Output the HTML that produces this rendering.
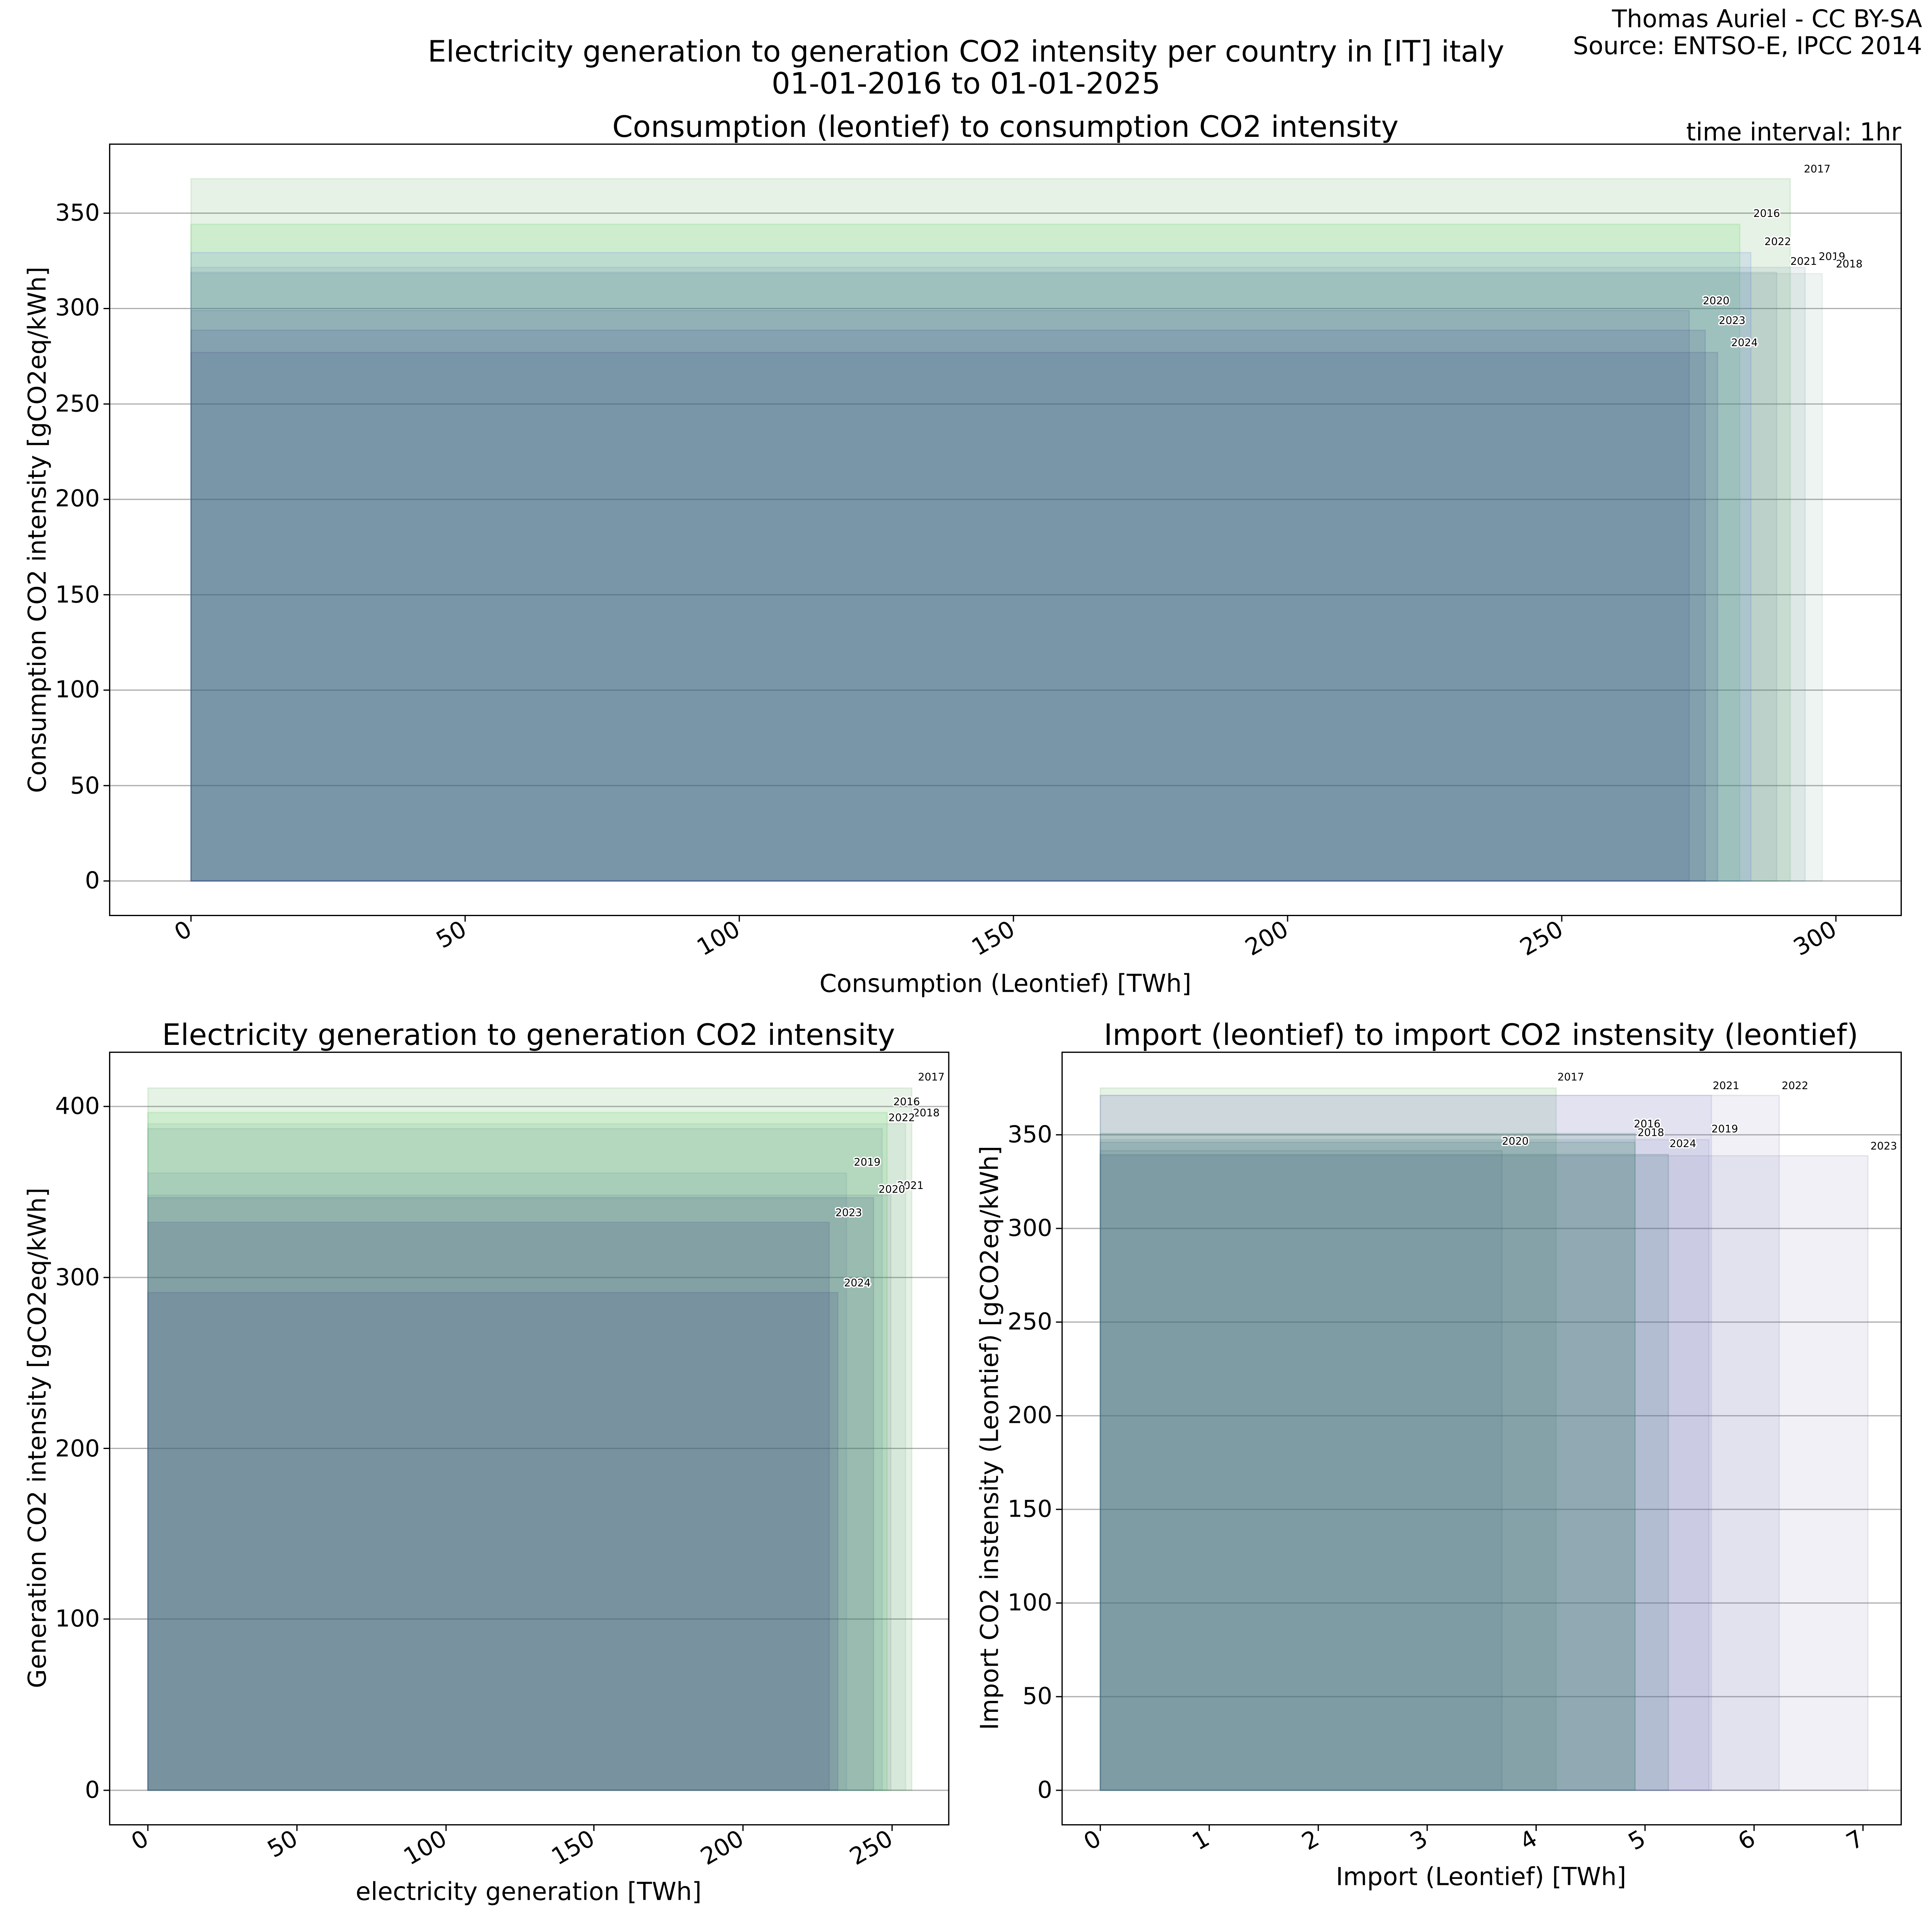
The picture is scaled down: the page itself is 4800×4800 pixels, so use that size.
<!DOCTYPE html>
<html><head><meta charset="utf-8"><style>
html,body{margin:0;padding:0;background:#fff}
svg{display:block}
text{font-family:"DejaVu Sans","Liberation Sans",sans-serif;fill:#000}
.t{font-size:19px}
.yl{font-size:8.5px;stroke:#fff;stroke-width:2.2px;paint-order:stroke;stroke-linejoin:round}
.g{stroke:#b0b0b0;stroke-width:1}
</style></head><body>
<svg width="4800" height="4800" viewBox="0 0 1568 1568" xmlns="http://www.w3.org/2000/svg">
<rect width="1568" height="1568" fill="#fff"/>
<text x="1560" y="22" text-anchor="end" style="font-size:19.8px">Thomas Auriel - CC BY-SA</text>
<text x="1560" y="44" text-anchor="end" style="font-size:19.8px">Source: ENTSO-E, IPCC 2014</text>
<text x="784" y="50" text-anchor="middle" style="font-size:23.8px">Electricity generation to generation CO2 intensity per country in [IT] italy</text>
<text x="784" y="76" text-anchor="middle" style="font-size:23.8px">01-01-2016 to 01-01-2025</text>

<!-- TOP PANEL -->
<text x="816" y="111" text-anchor="middle" style="font-size:23.9px">Consumption (leontief) to consumption CO2 intensity</text>
<text x="1543" y="114" text-anchor="end" style="font-size:20px">time interval: 1hr</text>
<g class="g">
<line x1="89" x2="1543" y1="715" y2="715"/><line x1="89" x2="1543" y1="637.6" y2="637.6"/><line x1="89" x2="1543" y1="560.1" y2="560.1"/><line x1="89" x2="1543" y1="482.7" y2="482.7"/><line x1="89" x2="1543" y1="405.3" y2="405.3"/><line x1="89" x2="1543" y1="327.9" y2="327.9"/><line x1="89" x2="1543" y1="250.4" y2="250.4"/><line x1="89" x2="1543" y1="173" y2="173"/>
</g>
<g stroke-width="1">
<rect x="155" y="182" width="1257" height="533" fill="#32cd32" fill-opacity="0.12" stroke="#32cd32" stroke-opacity="0.15"/>
<rect x="155" y="145" width="1298" height="570" fill="#008000" fill-opacity="0.1" stroke="#008000" stroke-opacity="0.1"/>
<rect x="155" y="222" width="1324" height="493" fill="#5a9678" fill-opacity="0.1" stroke="#5a9678" stroke-opacity="0.1"/>
<rect x="155" y="217" width="1310" height="498" fill="#648ca0" fill-opacity="0.12" stroke="#648ca0" stroke-opacity="0.15"/>
<rect x="155" y="252" width="1216" height="463" fill="#3c4682" fill-opacity="0.14" stroke="#3c4682" stroke-opacity="0.15"/>
<rect x="155" y="221" width="1287" height="494" fill="#648296" fill-opacity="0.12" stroke="#648296" stroke-opacity="0.15"/>
<rect x="155" y="205" width="1266" height="510" fill="#4169e1" fill-opacity="0.12" stroke="#4169e1" stroke-opacity="0.15"/>
<rect x="155" y="268" width="1229" height="447" fill="#3c4682" fill-opacity="0.14" stroke="#3c4682" stroke-opacity="0.15"/>
<rect x="155" y="286" width="1239" height="429" fill="#3c4682" fill-opacity="0.14" stroke="#3c4682" stroke-opacity="0.15"/>
</g>
<g class="yl">
<text x="1464" y="140">2017</text><text x="1423" y="176">2016</text><text x="1432" y="199">2022</text>
<text x="1453" y="215">2021</text><text x="1476" y="211">2019</text><text x="1490" y="217">2018</text>
<text x="1382" y="247">2020</text><text x="1395" y="263">2023</text><text x="1405" y="281">2024</text>
</g>
<rect x="89" y="117" width="1454" height="626" fill="none" stroke="#000" stroke-width="1"/>
<g stroke="#000" stroke-width="1">
<line x1="84" x2="89" y1="715" y2="715"/><line x1="84" x2="89" y1="637.6" y2="637.6"/><line x1="84" x2="89" y1="560.1" y2="560.1"/><line x1="84" x2="89" y1="482.7" y2="482.7"/><line x1="84" x2="89" y1="405.3" y2="405.3"/><line x1="84" x2="89" y1="327.9" y2="327.9"/><line x1="84" x2="89" y1="250.4" y2="250.4"/><line x1="84" x2="89" y1="173" y2="173"/>
<line x1="155" x2="155" y1="743" y2="748"/><line x1="377.5" x2="377.5" y1="743" y2="748"/><line x1="600" x2="600" y1="743" y2="748"/><line x1="822.5" x2="822.5" y1="743" y2="748"/><line x1="1045" x2="1045" y1="743" y2="748"/><line x1="1267.5" x2="1267.5" y1="743" y2="748"/><line x1="1490" x2="1490" y1="743" y2="748"/>
</g>
<g class="t" text-anchor="end">
<text x="81" y="721">0</text><text x="81" y="644">50</text><text x="81" y="566">100</text><text x="81" y="489">150</text><text x="81" y="411">200</text><text x="81" y="334">250</text><text x="81" y="256">300</text><text x="81" y="179">350</text>
</g>
<g class="t" text-anchor="end">
<text transform="translate(157,758) rotate(-30)">0</text>
<text transform="translate(380,758) rotate(-30)">50</text>
<text transform="translate(602,758) rotate(-30)">100</text>
<text transform="translate(825,758) rotate(-30)">150</text>
<text transform="translate(1047,758) rotate(-30)">200</text>
<text transform="translate(1270,758) rotate(-30)">250</text>
<text transform="translate(1492,758) rotate(-30)">300</text>
</g>
<text x="816" y="805" text-anchor="middle" style="font-size:20px">Consumption (Leontief) [TWh]</text>
<text transform="translate(37,430) rotate(-90)" text-anchor="middle" style="font-size:20px">Consumption CO2 intensity [gCO2eq/kWh]</text>

<!-- BOTTOM LEFT -->
<text x="429" y="848" text-anchor="middle" style="font-size:23.9px">Electricity generation to generation CO2 intensity</text>
<g class="g">
<line x1="89" x2="770" y1="1453" y2="1453"/><line x1="89" x2="770" y1="1314" y2="1314"/><line x1="89" x2="770" y1="1175.5" y2="1175.5"/><line x1="89" x2="770" y1="1036.8" y2="1036.8"/><line x1="89" x2="770" y1="898" y2="898"/>
</g>
<g stroke-width="1">
<rect x="120" y="903" width="600" height="550" fill="#32cd32" fill-opacity="0.12" stroke="#32cd32" stroke-opacity="0.15"/>
<rect x="120" y="883" width="620" height="570" fill="#008000" fill-opacity="0.1" stroke="#008000" stroke-opacity="0.1"/>
<rect x="120" y="912" width="615" height="541" fill="#5a9678" fill-opacity="0.1" stroke="#5a9678" stroke-opacity="0.1"/>
<rect x="120" y="952" width="567" height="501" fill="#648ca0" fill-opacity="0.12" stroke="#648ca0" stroke-opacity="0.15"/>
<rect x="120" y="972" width="589" height="481" fill="#3c4682" fill-opacity="0.15" stroke="#3c4682" stroke-opacity="0.15"/>
<rect x="120" y="970" width="603" height="483" fill="#648296" fill-opacity="0.12" stroke="#648296" stroke-opacity="0.15"/>
<rect x="120" y="916" width="596" height="537" fill="#4a8a8a" fill-opacity="0.12" stroke="#4a8a8a" stroke-opacity="0.15"/>
<rect x="120" y="992" width="553" height="461" fill="#3c4682" fill-opacity="0.16" stroke="#3c4682" stroke-opacity="0.15"/>
<rect x="120" y="1049" width="560" height="404" fill="#3c4682" fill-opacity="0.16" stroke="#3c4682" stroke-opacity="0.15"/>
</g>
<g class="yl">
<text x="745" y="877">2017</text><text x="725" y="897">2016</text><text x="741" y="906">2018</text><text x="721" y="910">2022</text>
<text x="693" y="946">2019</text><text x="728" y="965">2021</text><text x="713" y="968">2020</text><text x="678" y="987">2023</text><text x="685" y="1044">2024</text>
</g>
<rect x="89" y="854" width="681" height="627" fill="none" stroke="#000" stroke-width="1"/>
<g stroke="#000" stroke-width="1">
<line x1="84" x2="89" y1="1453" y2="1453"/><line x1="84" x2="89" y1="1314" y2="1314"/><line x1="84" x2="89" y1="1175.5" y2="1175.5"/><line x1="84" x2="89" y1="1036.8" y2="1036.8"/><line x1="84" x2="89" y1="898" y2="898"/>
<line x1="120" x2="120" y1="1481" y2="1486"/><line x1="241" x2="241" y1="1481" y2="1486"/><line x1="362" x2="362" y1="1481" y2="1486"/><line x1="482" x2="482" y1="1481" y2="1486"/><line x1="603" x2="603" y1="1481" y2="1486"/><line x1="724" x2="724" y1="1481" y2="1486"/>
</g>
<g class="t" text-anchor="end">
<text x="81" y="1459">0</text><text x="81" y="1320">100</text><text x="81" y="1182">200</text><text x="81" y="1043">300</text><text x="81" y="904">400</text>
</g>
<g class="t" text-anchor="end">
<text transform="translate(122,1496) rotate(-30)">0</text>
<text transform="translate(243,1496) rotate(-30)">50</text>
<text transform="translate(364,1496) rotate(-30)">100</text>
<text transform="translate(484,1496) rotate(-30)">150</text>
<text transform="translate(605,1496) rotate(-30)">200</text>
<text transform="translate(726,1496) rotate(-30)">250</text>
</g>
<text x="429" y="1542" text-anchor="middle" style="font-size:20px">electricity generation [TWh]</text>
<text transform="translate(37,1167) rotate(-90)" text-anchor="middle" style="font-size:20px">Generation CO2 intensity [gCO2eq/kWh]</text>

<!-- BOTTOM RIGHT -->
<text x="1202" y="848" text-anchor="middle" style="font-size:23.9px">Import (leontief) to import CO2 instensity (leontief)</text>
<g class="g">
<line x1="862" x2="1543" y1="1453" y2="1453"/><line x1="862" x2="1543" y1="1377" y2="1377"/><line x1="862" x2="1543" y1="1301" y2="1301"/><line x1="862" x2="1543" y1="1225" y2="1225"/><line x1="862" x2="1543" y1="1149" y2="1149"/><line x1="862" x2="1543" y1="1073" y2="1073"/><line x1="862" x2="1543" y1="997" y2="997"/><line x1="862" x2="1543" y1="921" y2="921"/>
</g>
<g stroke-width="1">
<rect x="893" y="920" width="434" height="533" fill="#2e8b57" fill-opacity="0.17" stroke="#2e8b57" stroke-opacity="0.2"/>
<rect x="893" y="883" width="370" height="570" fill="#008000" fill-opacity="0.1" stroke="#008000" stroke-opacity="0.1"/>
<rect x="893" y="927" width="434" height="526" fill="#2e8b57" fill-opacity="0.17" stroke="#2e8b57" stroke-opacity="0.2"/>
<rect x="893" y="925" width="494" height="528" fill="#6e6eaa" fill-opacity="0.1" stroke="#6e6eaa" stroke-opacity="0.15"/>
<rect x="893" y="934" width="326" height="519" fill="#3c6a6e" fill-opacity="0.1" stroke="#3c6a6e" stroke-opacity="0.2"/>
<rect x="893" y="889" width="496" height="564" fill="#6e6eca" fill-opacity="0.1" stroke="#6e6eca" stroke-opacity="0.15"/>
<rect x="893" y="889" width="551" height="564" fill="#6e6eaa" fill-opacity="0.1" stroke="#6e6eaa" stroke-opacity="0.15"/>
<rect x="893" y="938" width="623" height="515" fill="#6e6eaa" fill-opacity="0.1" stroke="#6e6eaa" stroke-opacity="0.15"/>
<rect x="893" y="937" width="461" height="516" fill="#2f6f6a" fill-opacity="0.15" stroke="#2f6f6a" stroke-opacity="0.2"/>
</g>
<g class="yl">
<text x="1264" y="877">2017</text><text x="1390" y="884">2021</text><text x="1446" y="884">2022</text>
<text x="1326" y="915">2016</text><text x="1329" y="922">2018</text><text x="1389" y="919">2019</text>
<text x="1219" y="929">2020</text><text x="1355" y="931">2024</text><text x="1518" y="933">2023</text>
</g>
<rect x="862" y="854" width="681" height="627" fill="none" stroke="#000" stroke-width="1"/>
<g stroke="#000" stroke-width="1">
<line x1="857" x2="862" y1="1453" y2="1453"/><line x1="857" x2="862" y1="1377" y2="1377"/><line x1="857" x2="862" y1="1301" y2="1301"/><line x1="857" x2="862" y1="1225" y2="1225"/><line x1="857" x2="862" y1="1149" y2="1149"/><line x1="857" x2="862" y1="1073" y2="1073"/><line x1="857" x2="862" y1="997" y2="997"/><line x1="857" x2="862" y1="921" y2="921"/>
<line x1="893" x2="893" y1="1481" y2="1486"/><line x1="981.4" x2="981.4" y1="1481" y2="1486"/><line x1="1069.9" x2="1069.9" y1="1481" y2="1486"/><line x1="1158.3" x2="1158.3" y1="1481" y2="1486"/><line x1="1246.7" x2="1246.7" y1="1481" y2="1486"/><line x1="1335.1" x2="1335.1" y1="1481" y2="1486"/><line x1="1423.6" x2="1423.6" y1="1481" y2="1486"/><line x1="1512" x2="1512" y1="1481" y2="1486"/>
</g>
<g class="t" text-anchor="end">
<text x="854" y="1459">0</text><text x="854" y="1383">50</text><text x="854" y="1307">100</text><text x="854" y="1231">150</text><text x="854" y="1155">200</text><text x="854" y="1079">250</text><text x="854" y="1003">300</text><text x="854" y="927">350</text>
</g>
<g class="t" text-anchor="end">
<text transform="translate(895,1496) rotate(-30)">0</text>
<text transform="translate(983,1496) rotate(-30)">1</text>
<text transform="translate(1072,1496) rotate(-30)">2</text>
<text transform="translate(1160,1496) rotate(-30)">3</text>
<text transform="translate(1249,1496) rotate(-30)">4</text>
<text transform="translate(1337,1496) rotate(-30)">5</text>
<text transform="translate(1426,1496) rotate(-30)">6</text>
<text transform="translate(1514,1496) rotate(-30)">7</text>
</g>
<text x="1202" y="1530" text-anchor="middle" style="font-size:20px">Import (Leontief) [TWh]</text>
<text transform="translate(810,1167) rotate(-90)" text-anchor="middle" style="font-size:20px">Import CO2 instensity (Leontief) [gCO2eq/kWh]</text>
</svg>
</body></html>
